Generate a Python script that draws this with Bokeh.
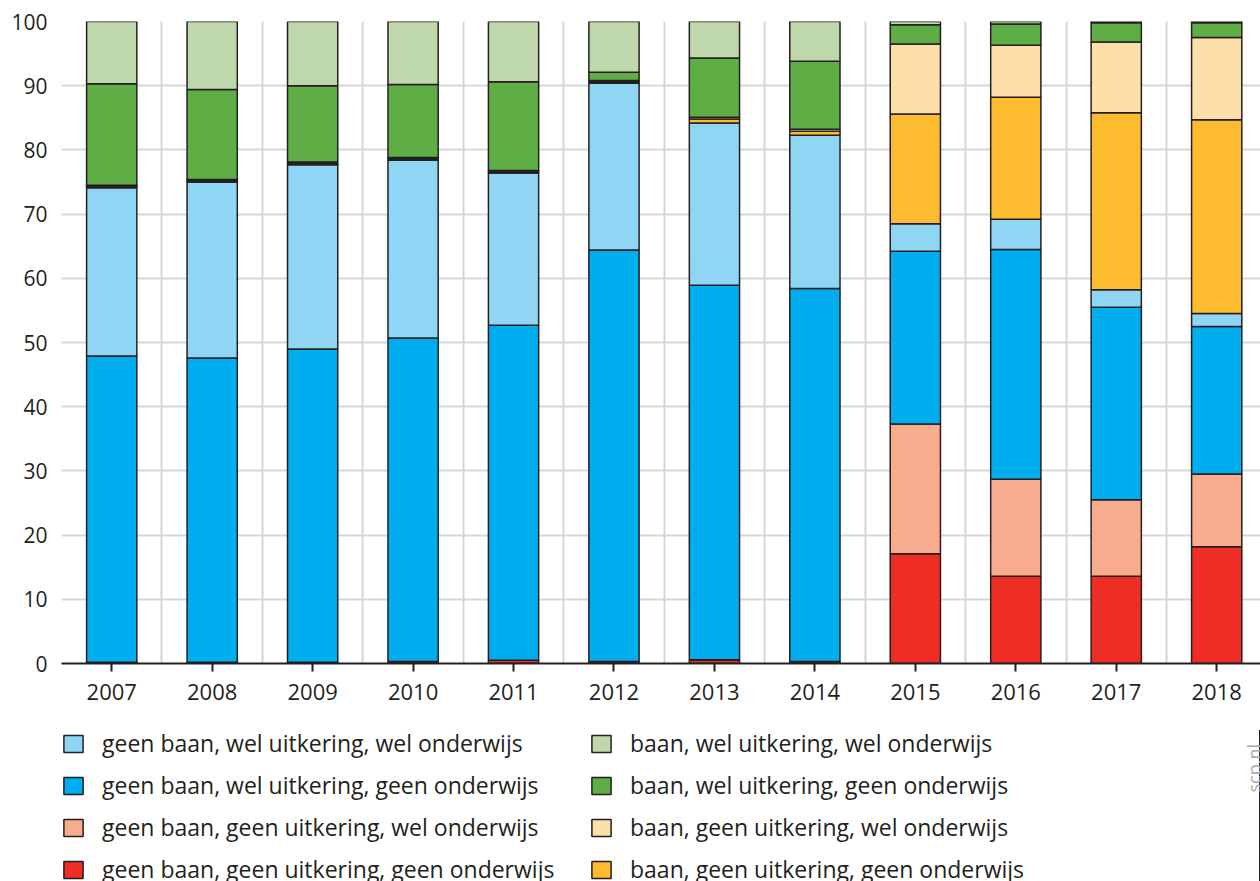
import math
from bokeh.plotting import figure
from bokeh.layouts import column
from bokeh.models import Range1d, FixedTicker, Legend, LegendItem, Label, ColumnDataSource
from bokeh.embed import file_html
from bokeh.resources import INLINE

years = ["2007", "2008", "2009", "2010", "2011", "2012", "2013", "2014", "2015", "2016", "2017", "2018"]

# stacked from bottom to top
geen_geen_geen = [0.2, 0.2, 0.2, 0.3, 0.5, 0.3, 0.6, 0.3, 17.1, 13.6, 13.6, 18.2]
geen_geen_wel = [0.0, 0.0, 0.0, 0.0, 0.0, 0.0, 0.0, 0.0, 20.2, 15.1, 11.9, 11.3]
geen_wel_geen = [47.7, 47.4, 48.8, 50.4, 52.2, 64.1, 58.3, 58.1, 26.9, 35.8, 30.0, 23.0]
geen_wel_wel = [26.2, 27.4, 28.7, 27.7, 23.7, 26.0, 25.3, 23.9, 4.3, 4.7, 2.7, 2.0]
baan_geen_geen = [0.2, 0.2, 0.2, 0.2, 0.2, 0.2, 0.6, 0.6, 17.1, 19.0, 27.6, 30.2]
baan_geen_wel = [0.2, 0.2, 0.2, 0.2, 0.2, 0.2, 0.3, 0.3, 10.9, 8.1, 11.0, 12.8]
baan_wel_geen = [15.8, 14.0, 11.9, 11.4, 13.8, 1.3, 9.2, 10.6, 3.0, 3.3, 3.0, 2.3]
baan_wel_wel = [9.7, 10.6, 10.0, 9.8, 9.4, 7.9, 5.7, 6.2, 0.5, 0.4, 0.2, 0.2]

keys = ["ggg", "ggw", "gwg", "gww", "bgg", "bgw", "bwg", "bww"]
labels = [
    "geen baan, geen uitkering, geen onderwijs",
    "geen baan, geen uitkering, wel onderwijs",
    "geen baan, wel uitkering, geen onderwijs",
    "geen baan, wel uitkering, wel onderwijs",
    "baan, geen uitkering, geen onderwijs",
    "baan, geen uitkering, wel onderwijs",
    "baan, wel uitkering, geen onderwijs",
    "baan, wel uitkering, wel onderwijs",
]
colors = ["#ee2e24", "#f7ac8e", "#00aeef", "#8fd6f5", "#fdbb30", "#fddfa9", "#5fad45", "#bfd8ab"]

FONT = "Open Sans"
DARK = "#231f20"

xs = list(range(len(years)))
source = ColumnDataSource(data=dict(
    x=xs,
    ggg=geen_geen_geen, ggw=geen_geen_wel, gwg=geen_wel_geen, gww=geen_wel_wel,
    bgg=baan_geen_geen, bgw=baan_geen_wel, bwg=baan_wel_geen, bww=baan_wel_wel,
))

# ---------------- main chart ----------------
p = figure(width=1260, height=730, output_backend="svg", toolbar_location=None,
           x_range=Range1d(-0.5, 11.436), y_range=Range1d(0, 100),
           min_border_left=61, min_border_right=0, min_border_top=21, min_border_bottom=67)
p.outline_line_color = None
p.background_fill_color = "white"

rs = p.vbar_stack(keys, x="x", width=0.5, fill_color=colors, line_color=DARK,
                  line_width=1.5, source=source)

p.xgrid.ticker = FixedTicker(ticks=[i - 0.5 for i in range(len(years) + 1)])
p.xgrid.grid_line_color = "#d7d7d7"
p.xgrid.grid_line_width = 2
p.ygrid.ticker = FixedTicker(ticks=list(range(0, 101, 10)))
p.ygrid.grid_line_color = "#d7d7d7"
p.ygrid.grid_line_width = 2

p.xaxis.ticker = FixedTicker(ticks=xs)
p.xaxis.major_label_overrides = {i: y for i, y in enumerate(years)}
p.xaxis.axis_line_color = DARK
p.xaxis.axis_line_width = 2
p.xaxis.major_tick_line_color = DARK
p.xaxis.major_tick_line_width = 2
p.xaxis.major_tick_out = 8
p.xaxis.major_tick_in = 0
p.xaxis.minor_tick_line_color = None
p.xaxis.major_label_standoff = 12
p.xaxis.major_label_text_font = FONT
p.xaxis.major_label_text_font_size = "22px"
p.xaxis.major_label_text_color = DARK

p.yaxis.ticker = FixedTicker(ticks=list(range(0, 101, 10)))
p.yaxis.axis_line_color = None
p.yaxis.major_tick_line_color = None
p.yaxis.minor_tick_line_color = None
p.yaxis.major_tick_out = 0
p.yaxis.major_tick_in = 0
p.yaxis.major_label_standoff = 14
p.yaxis.major_label_text_font = FONT
p.yaxis.major_label_text_font_size = "21px"
p.yaxis.major_label_text_color = DARK

# ---------------- legend strip ----------------
# (its frame is aligned with the chart's frame: left edge at x=61)
q = figure(width=1260, height=151, output_backend="svg", toolbar_location=None,
           x_axis_type=None, y_axis_type=None, x_range=Range1d(-10, -9), y_range=Range1d(0, 1),
           min_border=0)
q.outline_line_color = None
q.xgrid.visible = False
q.ygrid.visible = False

# same stacked renderers (outside this strip's visible range) to feed the legend swatches
swatches = q.vbar_stack(keys, x="x", width=0.5, fill_color=colors, line_color=DARK,
                        line_width=1.5, source=source)


def make_legend(idx, xloc):
    leg = Legend(items=[LegendItem(label=labels[i], renderers=[swatches[i]]) for i in idx],
                 location=(xloc, -4), orientation="vertical")
    leg.border_line_color = None
    leg.background_fill_alpha = 0
    leg.padding = 0
    leg.margin = 0
    leg.spacing = 10
    leg.glyph_width = 24
    leg.glyph_height = 21
    leg.label_height = 21
    leg.label_standoff = 17
    leg.label_text_font = FONT
    leg.label_text_font_size = "23px"
    leg.label_text_color = DARK
    return leg


q.add_layout(make_legend([3, 2, 1, 0], 0))
q.add_layout(make_legend([7, 6, 5, 4], 528))

q.add_layout(Label(x=1192, y=89, x_units="screen", y_units="screen", text="scp.nl",
                   angle=math.pi / 2, text_align="left", text_baseline="middle",
                   text_color="#aaaaaa", text_font=FONT, text_font_size="18px"))

layout = column(p, q, spacing=0)
open("out.html", "w").write(file_html(layout, INLINE))
